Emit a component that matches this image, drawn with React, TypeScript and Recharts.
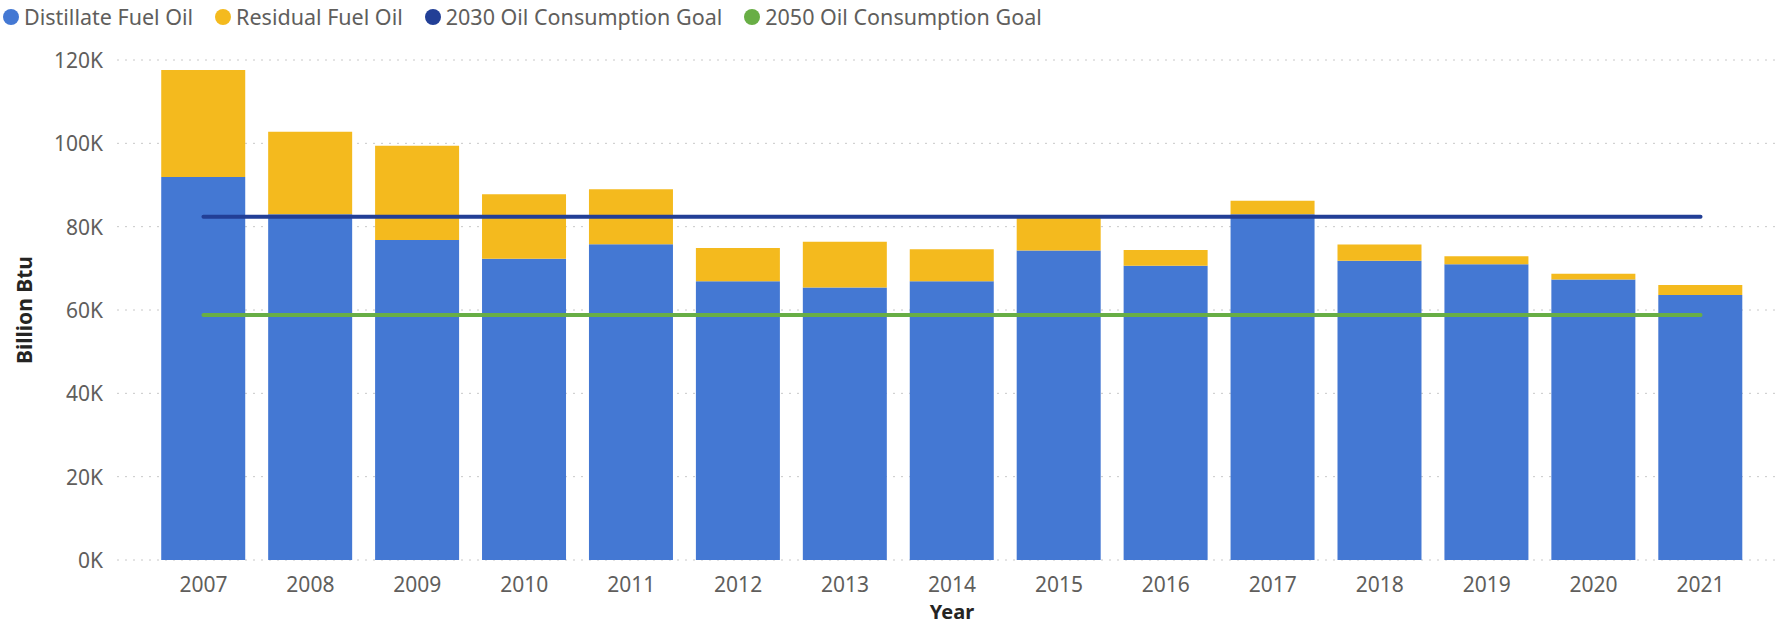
import React from "react";
import { ComposedChart, Bar, Line, XAxis, YAxis, CartesianGrid } from "recharts";

const years = ["2007","2008","2009","2010","2011","2012","2013","2014","2015","2016","2017","2018","2019","2020","2021"];
const distillate = [91900, 83000, 76800, 72300, 75800, 66900, 65400, 66900, 74300, 70600, 83000, 71800, 71000, 67300, 63600];
const residual = [25700, 19800, 22600, 15500, 13200, 8000, 11000, 7700, 7900, 3800, 3200, 3900, 1900, 1400, 2400];
const goal2030 = 82400;
const goal2050 = 58800;
const yTicks = [0, 20000, 40000, 60000, 80000, 100000, 120000];

const data = years.map((y, i) => ({
  year: y,
  distillate: distillate[i],
  residual: residual[i],
  g2030: goal2030,
  g2050: goal2050,
}));

const FONT = "'Segoe UI', 'Noto Sans', 'Open Sans', sans-serif";
const BLUE = "#4478D3";
const YELLOW = "#F4BA1E";
const NAVY = "#223F96";
const GREEN = "#68AE45";

const legendItems = [
  { label: "Distillate Fuel Oil", color: BLUE },
  { label: "Residual Fuel Oil", color: YELLOW },
  { label: "2030 Oil Consumption Goal", color: NAVY },
  { label: "2050 Oil Consumption Goal", color: GREEN },
];

const XTick = (props: any) => {
  const { x, y, payload } = props;
  return (
    <text x={x} y={y + 24} textAnchor="middle" fill="#605E5C" fontSize={21} fontFamily={FONT}>
      {payload.value}
    </text>
  );
};

const YTick = (props: any) => {
  const { y, payload } = props;
  return (
    <text x={103} y={y + 8} textAnchor="end" fill="#605E5C" fontSize={21} fontFamily={FONT}>
      {payload.value / 1000}K
    </text>
  );
};

export default function App() {
  return (
    <div style={{ position: "absolute", left: 0, top: 0, width: 1786, height: 626, background: "#fff" }}>
      <div style={{ position: "absolute", left: 3, top: 2, display: "flex", alignItems: "center", fontFamily: FONT, fontSize: 21.5, color: "#605E5C", whiteSpace: "nowrap" }}>
        {legendItems.map((it) => (
          <div key={it.label} style={{ display: "flex", alignItems: "center", marginRight: 22 }}>
            <span style={{ width: 16, height: 16, borderRadius: 8, background: it.color, display: "inline-block", marginRight: 5 }} />
            <span>{it.label}</span>
          </div>
        ))}
      </div>
      <ComposedChart
        width={1786}
        height={626}
        data={data}
        margin={{ top: 60, right: 9, bottom: 0, left: 0 }}
        barCategoryGap="10.5%"
      >
        <CartesianGrid vertical={false} stroke="#C8C8C8" strokeDasharray="2 6" />
        <XAxis
          dataKey="year"
          axisLine={false}
          tickLine={false}
          height={66}
          tick={<XTick />}
          padding={{ left: 33, right: 23 }}
          interval={0}
        />
        <YAxis
          width={117}
          domain={[0, 120000]}
          ticks={yTicks}
          axisLine={false}
          tickLine={false}
          tick={<YTick />}
        />
        <Bar dataKey="distillate" stackId="a" fill={BLUE} isAnimationActive={false} />
        <Bar dataKey="residual" stackId="a" fill={YELLOW} isAnimationActive={false} />
        <Line dataKey="g2030" stroke={NAVY} strokeWidth={4} strokeLinecap="round" dot={false} isAnimationActive={false} />
        <Line dataKey="g2050" stroke={GREEN} strokeWidth={4} strokeLinecap="round" dot={false} isAnimationActive={false} />
        <text x={952} y={619} textAnchor="middle" fontFamily={FONT} fontSize={20} fontWeight="bold" fill="#252423">Year</text>
        <text x={32} y={310} textAnchor="middle" fontFamily={FONT} fontSize={21} fontWeight="bold" fill="#252423" transform="rotate(-90 32 310)">Billion Btu</text>
      </ComposedChart>
    </div>
  );
}
